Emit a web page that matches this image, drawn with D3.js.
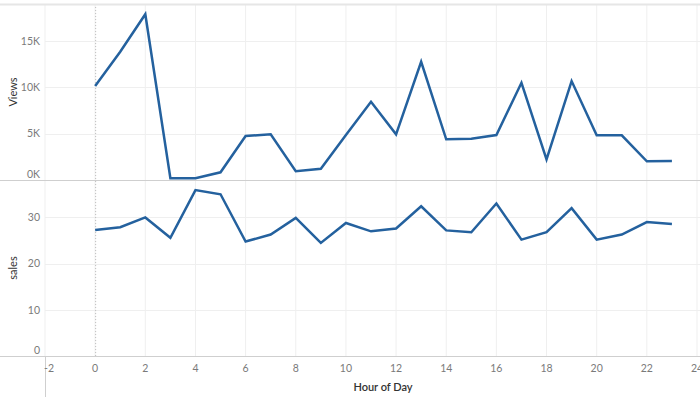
<!DOCTYPE html>
<html>
<head>
<meta charset="utf-8">
<script src="https://cdn.jsdelivr.net/npm/d3@7"></script>
<style>
  body { margin: 0; background: #fff; }
  svg { display: block; font-family: "Lato", "Open Sans", sans-serif; }
  .tick-label { fill: #7a7a7a; font-size: 10.5px; }
  .axis-title { fill: #333; font-size: 11px; }
</style>
</head>
<body>
<svg id="chart" width="700" height="397"></svg>
<script>
// data
var hours = [0, 1, 2, 3, 4, 5, 6, 7, 8, 9, 10, 11, 12, 13, 14, 15, 16, 17, 18, 19, 20, 21, 22, 23];
var views = [10150, 13850, 17900, 200, 200, 830, 4750, 4930, 940, 1220, 4850, 8450, 4930, 12760, 4390, 4460, 4850, 10500, 2230, 10680, 4820, 4820, 2020, 2050];
var sales = [27.3, 27.9, 30.0, 25.6, 35.9, 35.0, 24.8, 26.3, 29.9, 24.5, 28.8, 27.0, 27.6, 32.4, 27.2, 26.8, 33.0, 25.2, 26.8, 32.0, 25.2, 26.3, 29.0, 28.6];
var x_ticks = [-2, 0, 2, 4, 6, 8, 10, 12, 14, 16, 18, 20, 22, 24];
var views_ticks = [0, 5000, 10000, 15000];
var sales_ticks = [0, 10, 20, 30];

var blue = "#24619e";
var width = 700, height = 397;

var svg = d3.select("#chart");

var xScale = d3.scaleLinear()
    .domain([-2, 24])
    .range([45, 697]);

var viewsScale = d3.scaleLinear()
    .domain([0, 19000])
    .range([180, 4]);

var salesScale = d3.scaleLinear()
    .domain([0, 38])
    .range([356.3, 180.4]);

//grid
svg.append("g")
    .selectAll("line")
    .data(x_ticks)
    .enter()
    .append("line")
    .attr("x1", function (d) { return xScale(d); })
    .attr("x2", function (d) { return xScale(d); })
    .attr("y1", 4)
    .attr("y2", 356)
    .attr("stroke", "#efefef")
    .attr("stroke-width", 1);

svg.append("g")
    .selectAll("line")
    .data(views_ticks.slice(1))
    .enter()
    .append("line")
    .attr("x1", 45)
    .attr("x2", width)
    .attr("y1", function (d) { return Math.round(viewsScale(d)) + 0.5; })
    .attr("y2", function (d) { return Math.round(viewsScale(d)) + 0.5; })
    .attr("stroke", "#efefef");

svg.append("g")
    .selectAll("line")
    .data(sales_ticks.slice(1))
    .enter()
    .append("line")
    .attr("x1", 45)
    .attr("x2", width)
    .attr("y1", function (d) { return Math.round(salesScale(d)) + 0.5; })
    .attr("y2", function (d) { return Math.round(salesScale(d)) + 0.5; })
    .attr("stroke", "#efefef");

// zero reference line at hour 0
svg.append("line")
    .attr("x1", xScale(0) + 0.5)
    .attr("x2", xScale(0) + 0.5)
    .attr("y1", 4)
    .attr("y2", 356)
    .attr("stroke", "#bdbdbd")
    .attr("stroke-dasharray", "1,2");

// pane borders
var borders = [4.5, 180.5, 356.5];
svg.append("g")
    .selectAll("line")
    .data(borders)
    .enter()
    .append("line")
    .attr("x1", 0)
    .attr("x2", width)
    .attr("y1", function (d) { return d; })
    .attr("y2", function (d) { return d; })
    .attr("stroke", function (d, i) { return i === 0 ? "#e6e6e6" : "#cfcfcf"; })
    .attr("stroke-width", function (d, i) { return i === 0 ? 2 : 1; });

svg.append("line")
    .attr("x1", 45.5)
    .attr("x2", 45.5)
    .attr("y1", 356)
    .attr("y2", height)
    .attr("stroke", "#cfcfcf");

// tick labels
svg.append("g")
    .selectAll("text")
    .data(views_ticks)
    .enter()
    .append("text")
    .attr("class", "tick-label")
    .attr("x", 40)
    .attr("y", function (d) { return viewsScale(d) + (d === 0 ? -6 : 0); })
    .attr("dy", "0.35em")
    .attr("text-anchor", "end")
    .text(function (d) { return (d / 1000) + "K"; });

svg.append("g")
    .selectAll("text")
    .data(sales_ticks)
    .enter()
    .append("text")
    .attr("class", "tick-label")
    .attr("x", 40)
    .attr("y", function (d) { return salesScale(d) + (d === 0 ? -6 : 0); })
    .attr("dy", "0.35em")
    .attr("text-anchor", "end")
    .text(function (d) { return d; });

svg.append("g")
    .selectAll("text")
    .data(x_ticks)
    .enter()
    .append("text")
    .attr("class", "tick-label")
    .attr("x", function (d) { return xScale(d) + (d === -2 ? 4 : 0); })
    .attr("y", 368)
    .attr("dy", "0.35em")
    .attr("text-anchor", "middle")
    .text(function (d) { return d; });

// axis titles
svg.append("text")
    .attr("class", "axis-title")
    .attr("transform", "translate(13," + ((4 + 180) / 2) + ") rotate(-90)")
    .attr("dy", "0.35em")
    .attr("text-anchor", "middle")
    .text("Views");

svg.append("text")
    .attr("class", "axis-title")
    .attr("transform", "translate(13," + ((180 + 356) / 2) + ") rotate(-90)")
    .attr("dy", "0.35em")
    .attr("text-anchor", "middle")
    .text("sales");

svg.append("text")
    .attr("class", "axis-title")
    .attr("x", 383)
    .attr("y", 387)
    .attr("dy", "0.35em")
    .attr("text-anchor", "middle")
    .style("font-weight", "600")
    .text("Hour of Day");

// lines
var views_line = d3.line()
    .x(function (d, i) { return xScale(hours[i]); })
    .y(function (d) { return viewsScale(d); });

var sales_line = d3.line()
    .x(function (d, i) { return xScale(hours[i]); })
    .y(function (d) { return salesScale(d); });

svg.append("path")
    .datum(views)
    .attr("d", views_line)
    .attr("fill", "none")
    .attr("stroke", blue)
    .attr("stroke-width", 2.5)
    .attr("stroke-linejoin", "miter");

svg.append("path")
    .datum(sales)
    .attr("d", sales_line)
    .attr("fill", "none")
    .attr("stroke", blue)
    .attr("stroke-width", 2.5)
    .attr("stroke-linejoin", "miter");
</script>
</body>
</html>
